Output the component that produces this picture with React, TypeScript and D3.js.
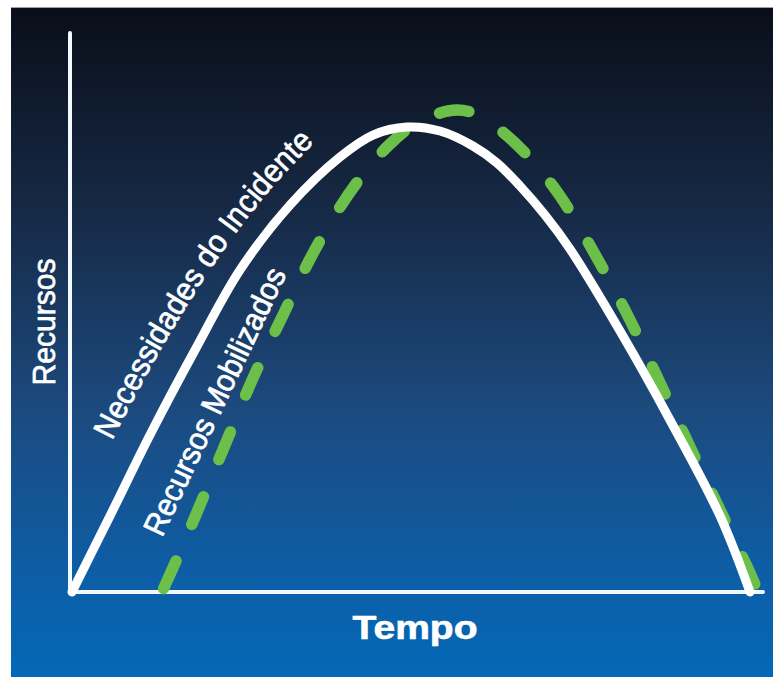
import React from "react";
import * as d3 from "d3";

const W = 773;
const H = 677;

// Tempo (0-100) vs Recursos (0-100)
const needsTime = [0.29, 5.77, 11.54, 18.04, 24.53, 31.75, 38.96, 43.72, 48.63, 53.39, 58.15, 61.62, 64.94, 68.54, 72.15, 79.37, 86.58, 93.8, 98.12];
const needsValue = [0, 13.6, 28.09, 43.29, 57.6, 69.23, 77.82, 81.75, 83.18, 82.47, 79.79, 76.74, 72.63, 67.44, 61.36, 46.69, 30.77, 13.6, 0];

const mobilizedTime = [13.28, 15.87, 18.76, 22.66, 26.41, 30.74, 34.63, 38.96, 42.57, 46.18, 49.78, 53.39, 55.84, 58.15, 62.05, 65.95, 70.71, 76.05, 80.81, 85.14, 89.47, 93.8, 98.12, 99.28];
const mobilizedValue = [0, 7.16, 15.56, 27.19, 38.28, 49.55, 59.57, 68.87, 75.13, 80.14, 83.72, 85.69, 86.23, 85.69, 82.65, 78.18, 70.84, 59.75, 48.66, 37.39, 25.94, 14.67, 3.4, 0];

const xTitle = "Tempo";
const yTitle = "Recursos";
const needsLabel = "Necessidades do Incidente";
const mobilizedLabel = "Recursos Mobilizados";

export default function App() {
  const x = d3.scaleLinear().domain([0, 100]).range([70, 763]);
  const y = d3.scaleLinear().domain([0, 100]).range([592, 33]);

  const line = d3
    .line<[number, number]>()
    .x((d) => x(d[0]))
    .y((d) => y(d[1]))
    .curve(d3.curveCatmullRom.alpha(0.5));

  const needs = needsTime.map((t, i) => [t, needsValue[i]] as [number, number]);
  const mob = mobilizedTime.map((t, i) => [t, mobilizedValue[i]] as [number, number]);

  const font = "'Liberation Sans', Arial, Helvetica, sans-serif";

  return (
    <svg
      width={W}
      height={H}
      style={{ position: "absolute", left: 0, top: 0, display: "block", background: "#ffffff" }}
    >
      <defs>
        <linearGradient id="bg" x1="0" y1="0" x2="0" y2="1">
          <stop offset="0" stopColor="#0a0e19" />
          <stop offset="0.3" stopColor="#162945" />
          <stop offset="0.6" stopColor="#1c4a7e" />
          <stop offset="0.85" stopColor="#0d5ea7" />
          <stop offset="1" stopColor="#0468b6" />
        </linearGradient>
        <path id="needsTextPath" d="M112,441 Q217.5,230 322,136 L360,104" />
      </defs>
      <rect x={11} y={7} width={W - 11} height={1} fill="#9a9ea6" />
      <rect x={11} y={8} width={W - 11} height={H - 8} fill="url(#bg)" />

      {/* axes */}
      <line
        x1={x(0)}
        y1={y(100)}
        x2={x(0)}
        y2={y(0)}
        stroke="#f4f8ff"
        strokeWidth={4}
        strokeLinecap="round"
      />
      <line
        x1={x(0)}
        y1={y(0)}
        x2={x(100)}
        y2={y(0)}
        stroke="#f4f8ff"
        strokeWidth={4}
        strokeLinecap="round"
      />

      {/* mobilized resources (green dashed) */}
      <path
        d={line(mob) || ""}
        fill="none"
        stroke="#6cc04a"
        strokeWidth={11.5}
        strokeLinecap="round"
        strokeDasharray="30 40"
        strokeDashoffset={-4}
      />

      {/* incident needs (white) */}
      <path
        d={line(needs) || ""}
        fill="none"
        stroke="#ffffff"
        strokeWidth={9}
        strokeLinecap="round"
      />

      {/* labels */}
      <text
        fill="#ffffff"
        stroke="#ffffff"
        strokeWidth={0.7}
        fontFamily={font}
        fontSize={32}
      >
        <textPath href="#needsTextPath" textLength={362} lengthAdjust="spacingAndGlyphs">
          {needsLabel}
        </textPath>
      </text>
      <text
        transform="translate(162,538) rotate(-64.7)"
        fill="#ffffff"
        stroke="#ffffff"
        strokeWidth={0.7}
        fontFamily={font}
        fontSize={31.5}
        textLength={292}
        lengthAdjust="spacingAndGlyphs"
      >
        {mobilizedLabel}
      </text>

      <text
        transform="translate(55,322) rotate(-90)"
        textAnchor="middle"
        fill="#ffffff"
        stroke="#ffffff"
        strokeWidth={0.7}
        fontFamily={font}
        fontSize={31}
        textLength={127}
        lengthAdjust="spacingAndGlyphs"
      >
        {yTitle}
      </text>
      <text
        x={415}
        y={639}
        textAnchor="middle"
        fill="#ffffff"
        stroke="#ffffff"
        strokeWidth={0.6}
        fontFamily={font}
        fontWeight="bold"
        fontSize={33}
        textLength={125}
        lengthAdjust="spacingAndGlyphs"
      >
        {xTitle}
      </text>
    </svg>
  );
}
